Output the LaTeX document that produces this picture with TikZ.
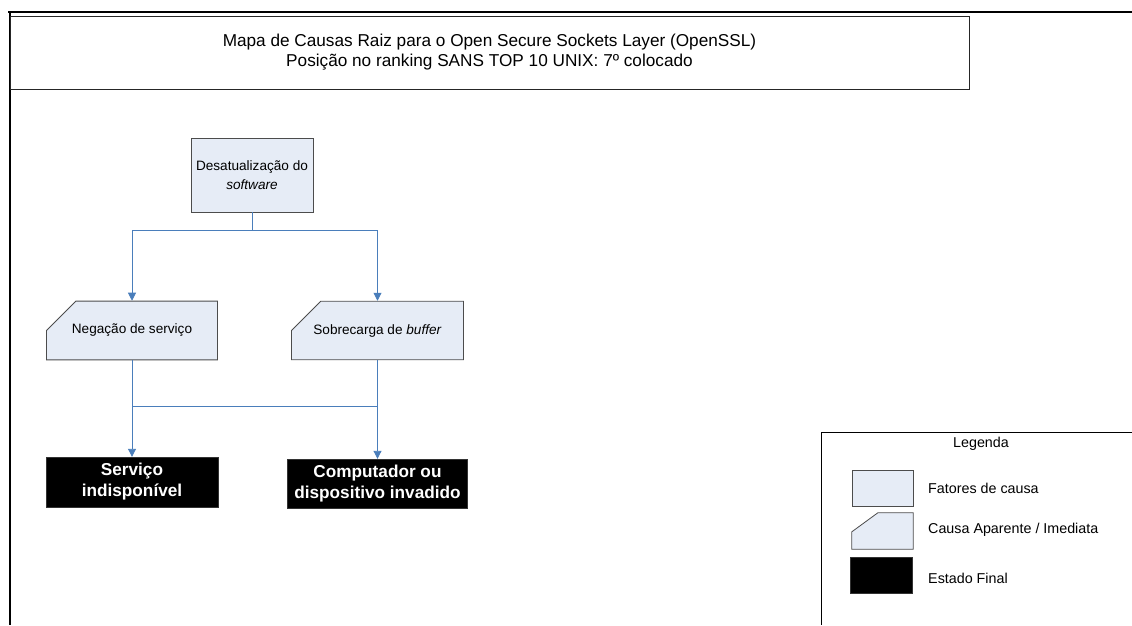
\documentclass[tikz,border=0pt]{standalone}
\usepackage{fontspec}
\setmainfont{Liberation Sans}
\usepackage{tikz}
\usetikzlibrary{arrows.meta,shapes.misc}
\usepackage{xcolor}
\definecolor{causefill}{HTML}{E6ECF6}
\definecolor{linkblue}{HTML}{4A7EBB}

\tikzset{
  factor/.style={draw=black!70,fill=causefill,line width=0.8pt,align=center,
    font=\fontsize{13.6}{19}\selectfont,inner sep=0pt},
  cause/.style={factor,chamfered rectangle,chamfered rectangle corners=north west,
    chamfered rectangle xsep=16pt,chamfered rectangle ysep=23pt},
  endstate/.style={draw=black!80,fill=black,text=white,align=center,inner sep=0pt,
    font=\bfseries\fontsize{17.2}{21}\selectfont},
  link/.style={draw=linkblue,line width=0.9pt,-{Triangle[width=8pt,length=8pt]}},
  joint/.style={draw=linkblue,line width=0.9pt},
  keytext/.style={anchor=west,inner sep=0pt,font=\fontsize{14.3}{16}\selectfont},
}

\begin{document}
\begin{tikzpicture}[x=1pt,y=-1pt]
  \useasboundingbox (0,0) rectangle (1132,625);
  % page frame
  \draw[line width=2.5pt] (8,12) -- (1132,12);
  \draw[line width=1.5pt] (10,12) -- (10,625);
  % title
  \node[draw=black!85,line width=0.9pt,minimum width=959pt,minimum height=73pt,
    align=center,font=\fontsize{17.2}{20}\selectfont] (title) at (489.5,52.5)
    {Mapa de Causas Raiz para o Open Secure Sockets Layer (OpenSSL)\\
     Posição no ranking SANS TOP 10 UNIX: 7º colocado};
  % root factor
  \node[factor,minimum width=122pt,minimum height=74pt] (root) at (252,175)
    {Desatualização do\\\textit{software}};
  % apparent causes
  \node[cause,minimum width=171pt,minimum height=51pt] (dos) at (132,330.5)
    {Negação de serviço};
  \node[cause,minimum width=172pt,minimum height=51pt] (bof) at (377.5,330.5)
    {Sobrecarga de \textit{buffer}};
  % final states
  \node[endstate,minimum width=172pt,minimum height=50pt] (down) at (132,482)
    {Serviço\\indisponível};
  \node[endstate,minimum width=180pt,minimum height=49pt] (hack) at (377.5,483.5)
    {Computador ou\\dispositivo invadido};
  % connectors
  \draw[link] (root.south) -- ++(0,18) -| (dos.north);
  \draw[link] (root.south) -- ++(0,18) -| (bof.north);
  \draw[link] (dos.south) -- (down.north);
  \draw[link] (bof.south) -- (hack.north);
  \coordinate (mergeL) at (132,406);
  \coordinate (mergeR) at (377.5,406);
  \draw[joint] (mergeL) -- (mergeR);
  % legend
  \draw[line width=0.9pt] (1132,432) -- (821,432) -- (821,625);
  \node[font=\fontsize{14.3}{16}\selectfont] (legtitle) at (981,444) {Legenda};
  \node[factor,minimum width=61pt,minimum height=36pt] (key1) at (882.5,488) {};
  \node[minimum width=61pt,minimum height=36pt,inner sep=0pt] (key2) at (882.5,531) {};
  \draw[factor] ([xshift=26pt]key2.north west) -- (key2.north east)
    -- (key2.south east) -- (key2.south west) -- ([yshift=-19pt]key2.north west) -- cycle;
  \node[endstate,minimum width=62pt,minimum height=36pt] (key3) at (881,575) {};
  \node[keytext] (lab1) at (928,488) {Fatores de causa};
  \node[keytext] (lab2) at (928,530) {Causa Aparente / Imediata};
  \node[keytext] (lab3) at (928,578) {Estado Final};
\end{tikzpicture}
\end{document}
